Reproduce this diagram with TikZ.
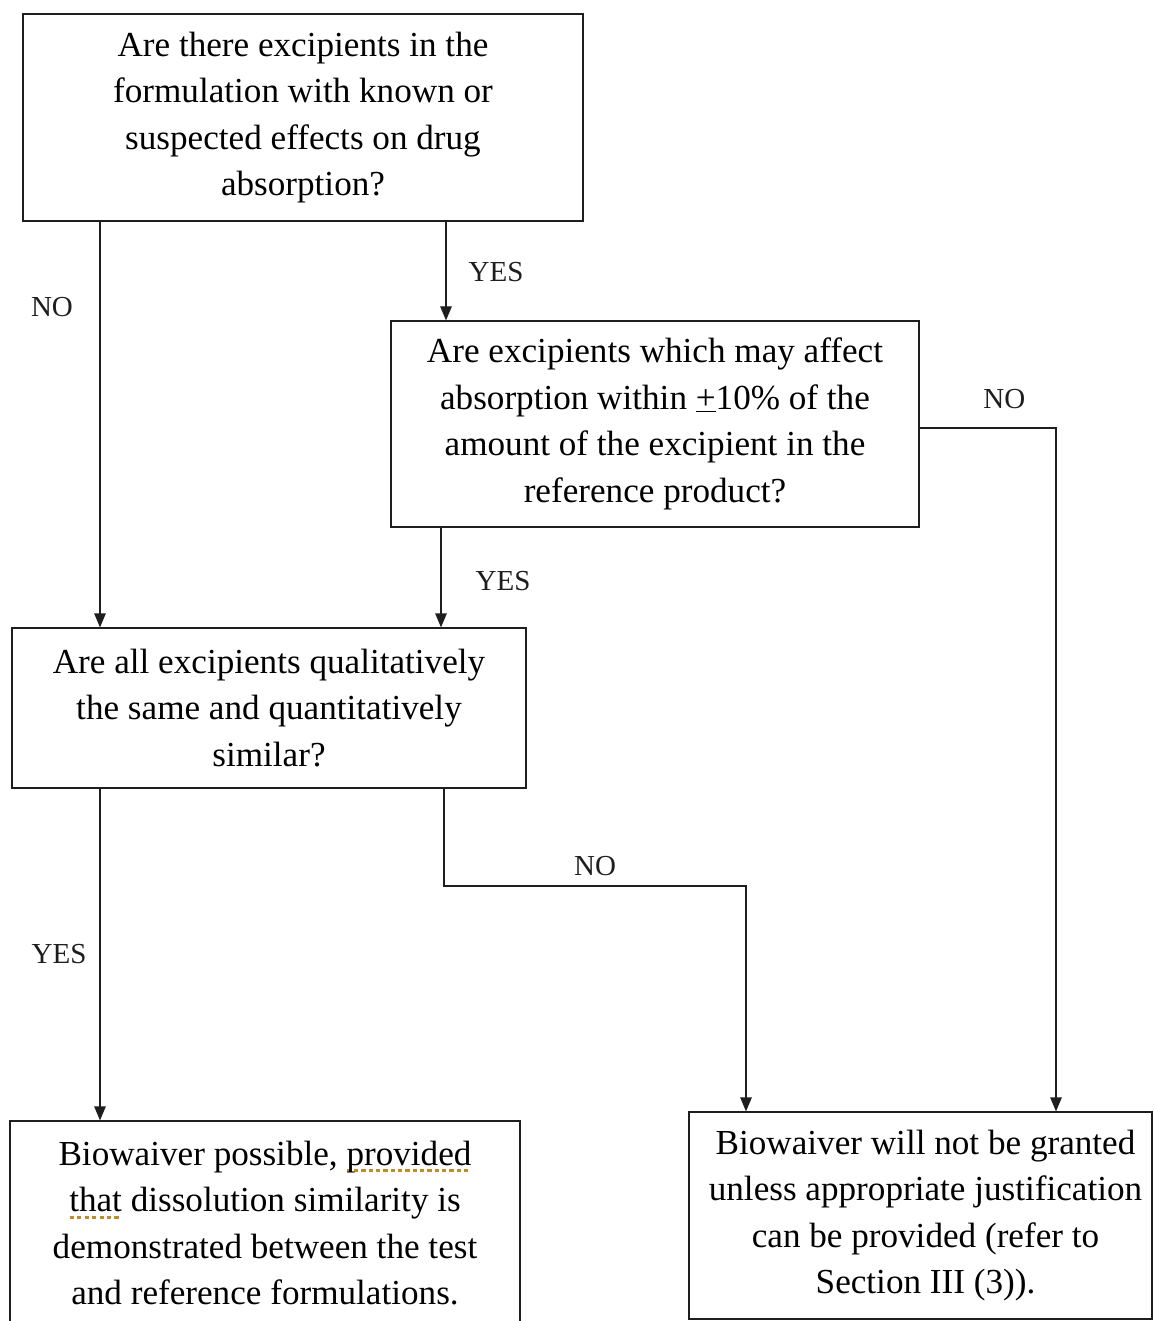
\documentclass[tikz,border=0pt]{standalone}
\usepackage{xcolor}
\usepackage{fontspec}
\setmainfont{Liberation Serif}
\usepackage{tikz}
\usetikzlibrary{arrows.meta, positioning}
\definecolor{linegray}{RGB}{30, 30, 30}
\definecolor{spellbrown}{RGB}{190, 140, 40}
% spell-check style dotted underline
\newsavebox{\spellbox}
\newcommand{\spellmark}[1]{\sbox{\spellbox}{#1}\rlap{\textcolor{spellbrown}{\raisebox{-0.45ex}{\hbox to \wd\spellbox{\xleaders\hbox{\rule{0.12em}{0.09em}\kern0.08em}\hfill}}}}#1}

\begin{document}
\begin{tikzpicture}[
    qbox/.style={
        rectangle,
        draw=linegray,
        line width=0.7pt,
        inner sep=0pt,
        align=center,
        font=\fontsize{20}{26.5}\selectfont
    },
    lbl/.style={
        inner sep=0pt,
        font=\fontsize{16.5}{20}\selectfont
    },
    arr/.style={-{Triangle[length=0.28cm, width=0.23cm]}, line width=0.7pt, color=linegray}
]
    \useasboundingbox (0, 0) rectangle (23.08, -26.42);

    % Questions
    \node[qbox, minimum width=11.2cm, minimum height=4.14cm] (q1) at (6.06, -2.35)
        {Are there excipients in the\\formulation with known or\\suspected effects on drug\\absorption?};
    \node[qbox, minimum width=10.56cm, minimum height=4.12cm] (q2) at (13.1, -8.48)
        {Are excipients which may affect\\absorption within \underline{+}10\% of the\\amount of the excipient in the\\reference product?};
    \node[qbox, minimum width=10.28cm, minimum height=3.2cm] (q3) at (5.38, -14.16)
        {Are all excipients qualitatively\\the same and quantitatively\\similar?};

    % Outcomes
    \node[qbox, minimum width=10.2cm, minimum height=4.08cm] (r1) at (5.3, -24.46)
        {Biowaiver possible, \spellmark{provided}\\\spellmark{that} dissolution similarity is\\demonstrated between the test\\and reference formulations.};
    \node[qbox, minimum width=9.26cm, minimum height=4.14cm] (r2) at (18.41, -24.31)
        {\hspace*{0.2cm}Biowaiver will not be granted\\\hspace*{0.2cm}unless appropriate justification\\\hspace*{0.2cm}can be provided (refer to\\\hspace*{0.2cm}Section III (3)).};

    % Arrows
    \draw[arr] (q1.south -| 2, 0) -- node[lbl, pos=0.21, xshift=-0.96cm] {NO} (q3.north -| 2, 0);
    \draw[arr] (q1.south -| 8.92, 0) -- node[lbl, pos=0.51, xshift=1cm] {YES} (q2.north -| 8.92, 0);
    \draw[arr] (q2.south -| 8.82, 0) -- node[lbl, pos=0.54, xshift=1.24cm] {YES} (q3.north -| 8.82, 0);
    \draw[arr] (q3.south -| 2, 0) -- node[lbl, pos=0.5, xshift=-0.82cm] {YES} (r1.north -| 2, 0);

    % NO branches to refusal
    \draw[arr] ([yshift=-0.08cm]q2.east) -| node[lbl, pos=0.25, xshift=0.33cm, yshift=0.58cm] {NO} (r2.north -| 21.12, 0);
    \coordinate (bend) at (8.88, -17.72);
    \draw[arr] (q3.south -| bend) -- (bend) -- node[lbl, midway, yshift=0.4cm] {NO} (bend -| 14.92, 0) -- (r2.north -| 14.92, 0);
\end{tikzpicture}
\end{document}
